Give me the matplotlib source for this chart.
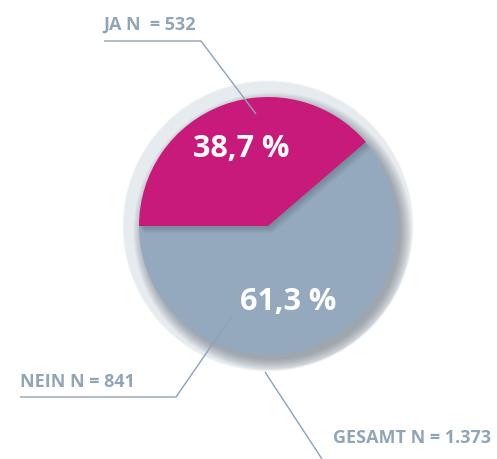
import matplotlib
matplotlib.use("Agg")
import matplotlib.pyplot as plt
from matplotlib.patches import Circle, Wedge

# survey answers
labels = ["JA", "NEIN"]
counts = [532, 841]
shares = [38.7, 61.3]
total = 1373
share_text = ["38,7 %", "61,3 %"]
count_text = ["JA N  = 532", "NEIN N = 841", "GESAMT N = 1.373"]

W, H = 497, 460
pie_colors = ["#c71a7a", "#94a9be"]
txt_color = "#91a5b9"
line_color = "#8fa2b6"

fig = plt.figure(figsize=(W / 100, H / 100), dpi=100)
ax = fig.add_axes([0, 0, 1, 1])

cx, cy = 268, H - 227
r = 129
ring_r = 144

# light ring behind the pie, with a soft outer edge
for k, a in [(1.5, 0.35), (0.7, 0.6)]:
    ax.add_patch(Circle((cx, cy), ring_r + k, facecolor="#e4e9ed", edgecolor="none",
                        alpha=a, zorder=1))
ring_clip = Circle((cx, cy), ring_r, transform=ax.transData)
ax.add_patch(Circle((cx, cy), ring_r, facecolor="#e6ebef", edgecolor="none", zorder=1))
# soft drop shadow of the disk onto the ring
for k in range(12):
    sh = Circle((cx + 4.5, cy - 5.5), r + 10 - k, facecolor="#55606b",
                edgecolor="none", alpha=0.05, zorder=2)
    ax.add_patch(sh)
    sh.set_clip_path(ring_clip)

wedges, _ = ax.pie(shares, colors=pie_colors, startangle=180, counterclock=False,
                   center=(cx, cy), radius=r, frame=True,
                   wedgeprops=dict(linewidth=0))
for w in wedges:
    w.set_zorder(3)

# shadow cast by the magenta slice onto the grey one
clip = Circle((cx, cy), r, transform=ax.transData)
ja = wedges[0]
for k in range(1, 9):
    sh = Wedge((cx + 0.6 * k, cy - 0.9 * k), r, ja.theta1, ja.theta2,
               facecolor="#3d4a57", edgecolor="none", alpha=0.045, zorder=4)
    ax.add_patch(sh)
    sh.set_clip_path(clip)
ja.set_zorder(5)

font = ["Open Sans", "DejaVu Sans"]

# percentage labels inside the slices
ax.text(241, H - 149, share_text[0], color="white", fontsize=22, fontweight="bold",
        family=font, ha="center", va="center", zorder=6)
ax.text(288, H - 302, share_text[1], color="white", fontsize=22, fontweight="bold",
        family=font, ha="center", va="center", zorder=6)

# leader lines and count labels
lk = dict(color=line_color, lw=1.0, zorder=7, solid_capstyle="butt")
ax.plot([104, 201, 256], [H - 42, H - 42, H - 115], **lk)
ax.plot([20, 176, 232], [H - 398, H - 398, H - 317], **lk)
ax.plot([265, 322], [H - 373, H - 460], **lk)

lab = dict(color=txt_color, fontsize=13, fontweight="bold", family=font, va="baseline")
ax.text(103, H - 30, count_text[0], ha="left", **lab)
ax.text(20, H - 387, count_text[1], ha="left", **lab)
ax.text(491, H - 443, count_text[2], ha="right", **lab)

ax.set_xlim(0, W)
ax.set_ylim(0, H)
ax.set_aspect("equal")
ax.axis("off")

fig.savefig("out.png", dpi=100)
